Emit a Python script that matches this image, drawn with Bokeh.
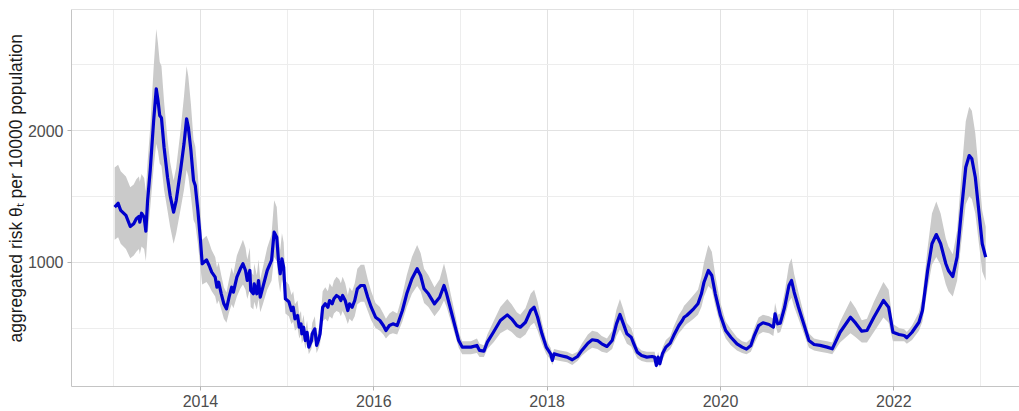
from bokeh.plotting import figure
from bokeh.models import FixedTicker, Range1d, Span, Title
from bokeh.embed import file_html
from bokeh.resources import INLINE

# decimal year of each estimate
date = [
    2013.01, 2013.05, 2013.08, 2013.14, 2013.19, 2013.23, 2013.26, 2013.29, 2013.30, 2013.32,
    2013.35, 2013.37, 2013.39, 2013.42, 2013.46, 2013.49, 2013.51, 2013.53, 2013.55, 2013.58,
    2013.62, 2013.65, 2013.69, 2013.72, 2013.77, 2013.81, 2013.84, 2013.86, 2013.89, 2013.92,
    2013.94, 2013.97, 2014.00, 2014.02, 2014.07, 2014.10, 2014.13, 2014.17, 2014.19, 2014.21,
    2014.24, 2014.27, 2014.30, 2014.33, 2014.36, 2014.38, 2014.42, 2014.46, 2014.49, 2014.52,
    2014.54, 2014.57, 2014.58, 2014.61, 2014.62, 2014.65, 2014.67, 2014.69, 2014.72, 2014.77,
    2014.82, 2014.85, 2014.88, 2014.90, 2014.92, 2014.94, 2014.96, 2014.98, 2015.02, 2015.05,
    2015.07, 2015.09, 2015.12, 2015.14, 2015.16, 2015.17, 2015.19, 2015.21, 2015.23, 2015.25,
    2015.28, 2015.29, 2015.32, 2015.34, 2015.36, 2015.38, 2015.41, 2015.44, 2015.47, 2015.49,
    2015.52, 2015.54, 2015.57, 2015.60, 2015.62, 2015.64, 2015.67, 2015.70, 2015.72, 2015.75,
    2015.78, 2015.81, 2015.85, 2015.89, 2015.93, 2015.97, 2016.02, 2016.07, 2016.11, 2016.14,
    2016.18, 2016.22, 2016.27, 2016.33, 2016.38, 2016.44, 2016.50, 2016.54, 2016.58, 2016.63,
    2016.70, 2016.76, 2016.81, 2016.84, 2016.89, 2016.94, 2016.98, 2017.02, 2017.12, 2017.19,
    2017.22, 2017.27, 2017.31, 2017.38, 2017.46, 2017.54, 2017.59, 2017.65, 2017.69, 2017.75,
    2017.81, 2017.85, 2017.89, 2017.94, 2017.99, 2018.04, 2018.06, 2018.08, 2018.15, 2018.23,
    2018.29, 2018.35, 2018.40, 2018.47, 2018.52, 2018.58, 2018.63, 2018.69, 2018.75, 2018.80,
    2018.84, 2018.88, 2018.92, 2018.97, 2019.00, 2019.04, 2019.09, 2019.15, 2019.21, 2019.24,
    2019.26, 2019.28, 2019.30, 2019.33, 2019.37, 2019.42, 2019.46, 2019.52, 2019.56, 2019.58,
    2019.61, 2019.65, 2019.69, 2019.74, 2019.78, 2019.81, 2019.86, 2019.90, 2019.94, 2020.00,
    2020.06, 2020.12, 2020.19, 2020.25, 2020.30, 2020.35, 2020.39, 2020.44, 2020.49, 2020.56,
    2020.61, 2020.63, 2020.66, 2020.69, 2020.74, 2020.79, 2020.82, 2020.85, 2020.90, 2020.96,
    2021.02, 2021.08, 2021.15, 2021.23, 2021.29, 2021.38, 2021.50, 2021.56, 2021.63, 2021.69,
    2021.77, 2021.88, 2021.94, 2021.99, 2022.06, 2022.12, 2022.15, 2022.21, 2022.29, 2022.33,
    2022.39, 2022.44, 2022.49, 2022.54, 2022.60, 2022.63, 2022.68, 2022.73, 2022.78, 2022.83,
    2022.87, 2022.90, 2022.94, 2022.98, 2023.02, 2023.06,
]

# posterior mean of the aggregated risk per 10000 population
theta = [
    1418, 1448, 1393, 1355, 1271, 1292, 1330, 1347, 1304, 1372,
    1342, 1235, 1468, 1696, 2076, 2317, 2228, 2114, 2096, 1873,
    1645, 1506, 1380, 1468, 1696, 1899, 2089, 2025, 1848, 1620,
    1582, 1393, 1165, 988, 1018, 975, 924, 886, 810, 848,
    760, 684, 646, 734, 810, 772, 886, 950, 988, 937,
    861, 937, 785, 760, 836, 760, 861, 734, 810, 937,
    1013, 1228, 1190, 1013, 912, 1026, 962, 722, 700, 633,
    658, 570, 595, 506, 532, 456, 506, 405, 468, 355,
    405, 456, 494, 368, 405, 456, 658, 684, 658, 709,
    684, 722, 747, 734, 709, 747, 709, 633, 684, 658,
    709, 798, 823, 823, 734, 658, 582, 557, 519, 481,
    519, 532, 519, 633, 760, 874, 950, 899, 798, 760,
    684, 734, 823, 760, 633, 506, 405, 355, 355, 368,
    330, 325, 393, 468, 557, 600, 570, 519, 506, 544,
    633, 658, 582, 456, 355, 304, 254, 304, 292, 279,
    259, 284, 330, 385, 411, 405, 380, 360, 405, 532,
    603, 532, 456, 430, 380, 317, 292, 279, 284, 279,
    216, 279, 229, 304, 355, 385, 443, 519, 557, 582,
    595, 620, 646, 684, 760, 848, 937, 899, 760, 595,
    481, 430, 380, 355, 340, 368, 443, 519, 540, 527,
    506, 608, 532, 537, 658, 823, 861, 772, 658, 532,
    405, 375, 368, 355, 342, 468, 582, 537, 476, 481,
    582, 709, 658, 468, 451, 443, 426, 468, 544, 633,
    937, 1140, 1210, 1140, 988, 937, 891, 1038, 1393, 1721,
    1810, 1785, 1645, 1393, 1140, 1038,
]

# lower bound of the credible band
theta_lo = [
    1170, 1190, 1140, 1100, 1030, 1050, 1080, 1100, 1060, 1120,
    1100, 1010, 1210, 1410, 1720, 1900, 1840, 1750, 1730, 1550,
    1390, 1270, 1140, 1220, 1400, 1550, 1700, 1650, 1500, 1320,
    1290, 1140, 960, 830, 850, 820, 780, 740, 680, 710,
    640, 570, 540, 620, 680, 650, 740, 800, 830, 790,
    720, 790, 660, 640, 700, 640, 720, 620, 680, 790,
    860, 1040, 1010, 860, 770, 870, 820, 610, 590, 530,
    550, 480, 500, 420, 450, 380, 420, 340, 390, 300,
    340, 380, 410, 310, 340, 380, 550, 570, 550, 590,
    570, 610, 630, 620, 590, 630, 590, 530, 570, 550,
    590, 680, 700, 700, 630, 560, 500, 480, 450, 420,
    450, 460, 450, 550, 660, 760, 820, 780, 690, 660,
    590, 640, 710, 660, 550, 440, 350, 300, 300, 310,
    280, 280, 340, 390, 460, 490, 470, 430, 420, 450,
    520, 540, 480, 380, 300, 260, 220, 260, 250, 240,
    220, 250, 290, 330, 350, 340, 320, 310, 340, 440,
    490, 440, 380, 360, 320, 270, 250, 240, 240, 240,
    190, 240, 200, 260, 310, 340, 390, 460, 490, 510,
    530, 550, 570, 600, 660, 740, 820, 790, 670, 520,
    420, 370, 330, 310, 300, 320, 380, 450, 470, 460,
    440, 530, 460, 470, 570, 700, 730, 660, 570, 460,
    350, 330, 320, 310, 300, 390, 460, 430, 390, 390,
    470, 580, 540, 400, 400, 400, 380, 410, 480, 550,
    800, 980, 1040, 980, 830, 780, 740, 860, 1160, 1440,
    1500, 1480, 1370, 1150, 930, 860,
]

# upper bound of the credible band
theta_hi = [
    1720, 1740, 1690, 1650, 1570, 1590, 1630, 1650, 1610, 1670,
    1640, 1540, 1760, 2020, 2480, 2770, 2660, 2520, 2490, 2220,
    1930, 1760, 1620, 1720, 2000, 2260, 2490, 2410, 2200, 1930,
    1880, 1660, 1380, 1170, 1200, 1150, 1090, 1040, 960, 1000,
    900, 810, 770, 870, 960, 910, 1050, 1120, 1170, 1110,
    1020, 1110, 930, 900, 990, 900, 1020, 870, 960, 1110,
    1210, 1470, 1420, 1210, 1090, 1220, 1150, 860, 830, 750,
    780, 680, 710, 600, 630, 540, 600, 480, 560, 420,
    480, 540, 590, 440, 480, 540, 780, 810, 780, 840,
    810, 860, 890, 870, 840, 890, 840, 750, 810, 780,
    840, 950, 980, 980, 870, 780, 690, 660, 610, 570,
    610, 630, 610, 750, 900, 1040, 1130, 1070, 950, 900,
    810, 870, 990, 910, 750, 600, 470, 400, 400, 420,
    380, 370, 450, 550, 660, 720, 680, 620, 600, 650,
    760, 790, 700, 540, 410, 350, 300, 340, 330, 320,
    300, 320, 380, 450, 480, 470, 440, 420, 480, 640,
    720, 640, 540, 500, 440, 360, 330, 320, 320, 320,
    250, 320, 260, 350, 410, 440, 510, 600, 640, 670,
    690, 720, 750, 790, 890, 1000, 1130, 1080, 900, 690,
    550, 490, 430, 400, 390, 420, 500, 580, 600, 590,
    570, 690, 600, 610, 770, 980, 1030, 910, 770, 610,
    460, 420, 410, 400, 390, 550, 710, 650, 560, 570,
    700, 850, 790, 530, 500, 490, 470, 520, 620, 740,
    1110, 1370, 1460, 1370, 1180, 1120, 1060, 1240, 1670, 2070,
    2180, 2150, 1980, 1690, 1390, 1270,
]

year_ticks = [2014, 2016, 2018, 2020, 2022]
year_minor = [2013, 2015, 2017, 2019, 2021, 2023]
risk_ticks = [1000, 2000]
risk_minor = [500, 1500, 2500]

BORDER = "#C4C4C4"
GRID_MAJOR = "#E2E2E2"
GRID_MINOR = "#EDEDED"
FONT = "Liberation Sans Narrow, Arial Narrow, Liberation Sans"

p = figure(
    width=1019, height=411,
    output_backend="svg", toolbar_location=None,
    x_range=Range1d(2012.512, 2023.45), y_range=Range1d(56, 2919),
    min_border_left=71, min_border_right=0, min_border_top=9, min_border_bottom=25,
)
p.background_fill_color = "white"
p.border_fill_color = "white"
p.outline_line_color = None

# credible band and posterior mean
p.varea(x=date, y1=theta_lo, y2=theta_hi, fill_color="#CACACA", fill_alpha=1.0)
p.line(x=date, y=theta, line_color="#0000CC", line_width=3.2, line_join="round")

# axes
p.xaxis.ticker = FixedTicker(ticks=year_ticks, minor_ticks=year_minor)
p.yaxis.ticker = FixedTicker(ticks=risk_ticks, minor_ticks=risk_minor)
p.xaxis.major_label_overrides = {t: str(t) for t in year_ticks}
p.yaxis.major_label_overrides = {t: str(t) for t in risk_ticks}
for ax in (p.xaxis, p.yaxis):
    ax.axis_line_color = BORDER
    ax.axis_line_width = 1
    ax.major_tick_line_color = "#B3B3B3"
    ax.major_tick_out = 4
    ax.major_tick_in = 0
    ax.minor_tick_line_color = None
    ax.major_label_text_font = FONT
    ax.major_label_text_font_size = "16px"
    ax.major_label_text_color = "#4D4D4D"
p.xaxis.major_label_standoff = 4
p.yaxis.major_label_standoff = 4

# grid
for g in (p.xgrid, p.ygrid):
    g.grid_line_color = GRID_MAJOR
    g.grid_line_width = 1
    g.minor_grid_line_color = GRID_MINOR
    g.minor_grid_line_width = 1

# top edge of the panel
p.add_layout(Span(location=2919, dimension="width", line_color=BORDER, line_width=1))

# y-axis title, starting a little above the bottom of the panel
ylab = Title(
    text="aggregated risk θₜ per 10000 population",
    align="left", offset=44, standoff=-2,
    text_font="Liberation Sans", text_font_size="17.5px",
    text_font_style="normal", text_color="#1A1A1A",
)
p.add_layout(ylab, "left")

open("out.html", "w").write(file_html(p, INLINE))
